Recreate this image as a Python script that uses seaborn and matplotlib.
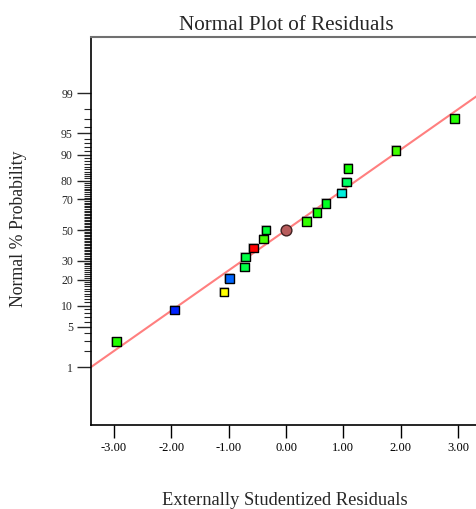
import numpy as np
import pandas as pd
import matplotlib
matplotlib.use("Agg")
import matplotlib.pyplot as plt
import matplotlib.ticker as mticker
import seaborn as sns
from statistics import NormalDist

# residuals (x) and normal % probability (y)
resid = [-2.96, -1.94, -1.08, -0.99, -0.72, -0.71, -0.57, -0.39, -0.35,
         0.36, 0.54, 0.70, 0.97, 1.05, 1.08, 1.92, 2.94]
prob = [2.9, 8.8, 14.7, 20.6, 26.5, 32.4, 38.2, 44.1, 50.0,
        55.9, 61.8, 67.6, 73.5, 79.4, 85.3, 91.2, 97.1]
colors = ["#22ff00", "#0022ff", "#ffff00", "#0066ff", "#00ff44", "#00ff44",
          "#ff0000", "#44ff00", "#00ff33", "#33ff00", "#11ff00", "#00ff22",
          "#00eedd", "#00ff66", "#11ff00", "#44ff00", "#22ff00"]

# centre point and reference line
center_x = [0.0]
center_p = [50.0]
line_x = [-3.4, 3.4]
line_p = [1.0, 99.0]

major_ticks = [1, 5, 10, 20, 30, 50, 70, 80, 90, 95, 99]
minor_ticks = [2, 3, 4, 6, 7, 8, 9] + list(range(11, 90)) + [91, 92, 93, 94, 96, 97, 98]
x_ticks = [-3, -2, -1, 0, 1, 2, 3]

df = pd.DataFrame({"resid": resid, "prob": prob, "pt": [str(i) for i in range(len(resid))]})
pal = dict(zip(df["pt"], colors))

sns.set_style("white")
plt.rcParams["font.family"] = ["Liberation Serif", "DejaVu Serif"]

nd = NormalDist()
ppf = np.vectorize(lambda p: nd.inv_cdf(min(max(p, 1e-7), 100 - 1e-7) / 100.0), otypes=[float])
cdf = np.vectorize(lambda z: nd.cdf(z) * 100.0, otypes=[float])

fig = plt.figure(figsize=(4.76, 5.09), dpi=100)
ax = fig.add_axes([91 / 476, 1 - 425 / 509, 390 / 476, 388 / 509])
ax.set_yscale("function", functions=(ppf, cdf))

sns.lineplot(x=line_x, y=line_p, ax=ax, color="#ff7f7f", linewidth=1.5, zorder=2)
# faint grey halo behind the squares
sns.scatterplot(data=df, x="resid", y="prob", marker="s", s=62, color="#999999",
                alpha=0.45, linewidth=0, legend=False, ax=ax, zorder=2.5)
sns.scatterplot(data=df, x="resid", y="prob", hue="pt", palette=pal, marker="s",
                s=38, edgecolor="black", linewidth=1.0, legend=False, ax=ax, zorder=3)
sns.scatterplot(x=center_x, y=center_p, marker="o", color="#b85c5c", s=60,
                edgecolor="#402020", linewidth=1.0, ax=ax, zorder=3)

ax.set_xlim(-3.4, 3.4)
ax.set_ylim(float(cdf(-3.31)), float(cdf(3.28)))

ax.xaxis.set_major_locator(mticker.FixedLocator(x_ticks))
ax.xaxis.set_major_formatter(mticker.FormatStrFormatter("%.2f"))
ax.yaxis.set_major_locator(mticker.FixedLocator(major_ticks))
ax.yaxis.set_major_formatter(mticker.FixedFormatter([str(t) for t in major_ticks]))
ax.yaxis.set_minor_locator(mticker.FixedLocator(minor_ticks))
ax.yaxis.set_minor_formatter(mticker.NullFormatter())

ax.tick_params(axis="x", which="major", direction="out", length=9, width=1,
               labelsize=9, pad=3, bottom=True, colors="black")
ax.tick_params(axis="y", which="major", direction="out", length=10, width=1,
               labelsize=8.5, pad=3, left=True)
ax.tick_params(axis="y", which="minor", direction="out", length=5, width=0.8, left=True)

ax.spines["right"].set_visible(False)
ax.spines["top"].set_color("#707070")
ax.spines["top"].set_linewidth(1.5)
for s in ["left", "bottom"]:
    ax.spines[s].set_color("black")
    ax.spines[s].set_linewidth(1.2)

ax.set_xlabel("")
ax.set_ylabel("")
fig.text(286 / 476, 1 - 26 / 509, "Normal Plot of Residuals", ha="center", va="center", fontsize=15.2)
fig.text(19 / 476, 1 - 229 / 509, "Normal % Probability", ha="center", va="center",
         rotation=90, fontsize=12.8)
fig.text(285 / 476, 1 - 505 / 509, "Externally Studentized Residuals", ha="center",
         va="baseline", fontsize=13.3)

fig.savefig("out.png", dpi=100)
